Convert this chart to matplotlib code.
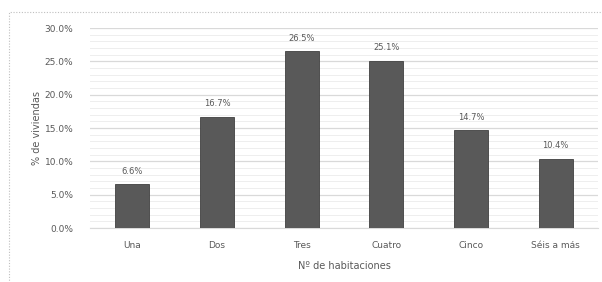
import numpy as np
import matplotlib.pyplot as plt
from matplotlib.patches import Rectangle
from matplotlib.ticker import MultipleLocator, FuncFormatter

# Distribution of dwellings by number of rooms
categorias = ['Una', 'Dos', 'Tres', 'Cuatro', 'Cinco', 'Séis a más']
porcentajes = [6.6, 16.7, 26.5, 25.1, 14.7, 10.4]  # %

gris_txt = '#595959'

fig = plt.figure(figsize=(6.02, 2.82), dpi=100)
ax = fig.add_axes([90 / 602, 1 - 228 / 282, 508 / 602, 200 / 282])

# dotted frame around the chart area
fig.patches.append(Rectangle((9 / 602, -0.05), 1.0, 1 - 12 / 282 + 0.05,
                             transform=fig.transFigure, fill=False,
                             edgecolor='#bfbfbf', linestyle=(0, (1, 1.5)),
                             linewidth=0.8))

x = np.arange(len(categorias))
barras = ax.bar(x, porcentajes, width=0.4, color='#595959',
                edgecolor='#404040', linewidth=0.6, zorder=3)

for b, v in zip(barras, porcentajes):
    ax.annotate(f'{v:.1f}%', (b.get_x() + b.get_width() / 2, v),
                xytext=(0, 6), textcoords='offset points',
                ha='center', va='bottom', fontsize=6, color=gris_txt)

ax.set_xlim(-0.5, len(categorias) - 0.5)
ax.set_ylim(0, 30)
ax.yaxis.set_major_locator(MultipleLocator(5))
ax.yaxis.set_minor_locator(MultipleLocator(1))
ax.yaxis.set_major_formatter(FuncFormatter(lambda v, p: f'{v:.1f}%'))
ax.grid(axis='y', which='major', color='#d9d9d9', linewidth=0.9, zorder=0)
ax.grid(axis='y', which='minor', color='#eeeeee', linewidth=0.7, zorder=0)

ax.set_xticks(x)
ax.set_xticklabels(categorias)
ax.tick_params(axis='both', which='both', length=0, labelsize=6.5,
               labelcolor=gris_txt)
ax.tick_params(axis='x', pad=9)
ax.tick_params(axis='y', pad=12)

for s in ['top', 'right', 'left']:
    ax.spines[s].set_visible(False)
ax.spines['bottom'].set_color('#d9d9d9')

ax.set_xlabel('Nº de habitaciones', fontsize=7, color=gris_txt, labelpad=8)
ax.set_ylabel('% de viviendas', fontsize=7, color=gris_txt, labelpad=2)

fig.savefig('out.png', dpi=100)
